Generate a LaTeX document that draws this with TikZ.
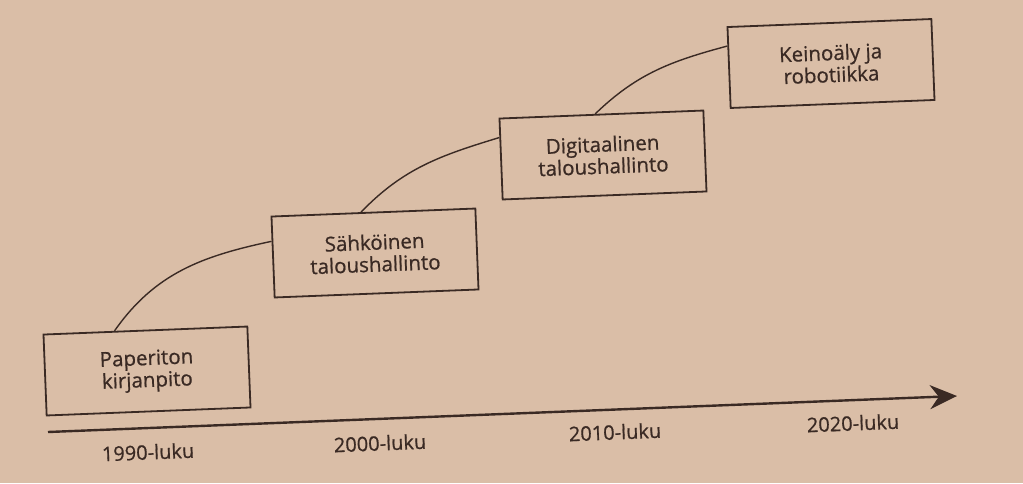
\documentclass[tikz,border=0pt]{standalone}
\usepackage{fontspec}
\setmainfont{Open Sans}
\newfontfamily\kirja{Open Sans}[FakeBold=0.7]
\usepackage{xcolor}
\usetikzlibrary{arrows, arrows.meta}
\usetikzlibrary{positioning}
\usetikzlibrary{calc}
\definecolor{paperi}{RGB}{218,190,167}
\definecolor{muste}{RGB}{58,42,36}
\tikzset{
	vaihe/.style={draw=muste, line width=1.8pt, text=muste, minimum width=204pt, minimum height=81pt, inner sep=0pt, align=center, rotate=2.25, font=\kirja\fontsize{20.5}{22}\selectfont},
	vuosi/.style={text=muste, rotate=2.25, font=\kirja\fontsize{20}{20}\selectfont},
	kaari/.style={draw=muste, line width=1.4pt}
}
\begin{document}
\begin{tikzpicture}[x=1pt, y=1pt]
				% paper
				\fill[paperi] (0,0) rectangle (1023,-483);
				\useasboundingbox (0,0) rectangle (1023,-483);
				% draw time axis
				\coordinate (alku) at (48,-432);
				\coordinate (loppu) at (957,-396);
				\draw[muste, line width=2.4pt, -{Stealth[length=27pt, width=24pt]}] (alku) -- (loppu);
				% decades
				\node[vuosi] (l1990) at (148,-452) {1990-luku};
				\node[vuosi] (l2000) at (380,-443) {2000-luku};
				\node[vuosi] (l2010) at (615,-432) {2010-luku};
				\node[vuosi] (l2020) at (853,-423) {2020-luku};
				% draw steps
				\node[vaihe] (paperiton) at (147,-371) {Paperiton\\kirjanpito};
				\node[vaihe] (sahkoinen) at (375,-253) {Sähköinen\\taloushallinto};
				\node[vaihe] (digitaalinen) at (603,-155) {Digitaalinen\\taloushallinto};
				\node[vaihe] (keinoaly) at (831,-63.5) {Keinoäly ja\\robotiikka};
				% connect steps
				\draw[kaari] ($(paperiton.north west)!.35!(paperiton.north east)$) to[out=55, in=192] ($(sahkoinen.north west)!.31!(sahkoinen.south west)$);
				\draw[kaari] ($(sahkoinen.north west)!.44!(sahkoinen.north east)$) to[out=46, in=197] ($(digitaalinen.north west)!.24!(digitaalinen.south west)$);
				\draw[kaari] ($(digitaalinen.north west)!.47!(digitaalinen.north east)$) to[out=44, in=195] ($(keinoaly.north west)!.24!(keinoaly.south west)$);
			\end{tikzpicture}
\end{document}
